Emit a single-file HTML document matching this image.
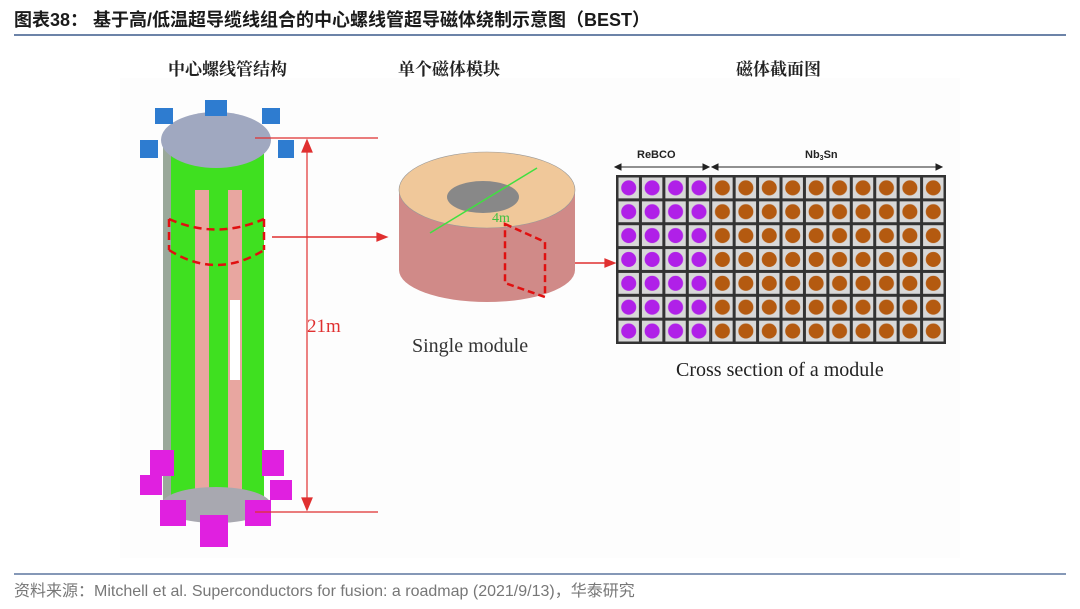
<!DOCTYPE html>
<html><head><meta charset="utf-8"><style>
body{margin:0;width:1080px;height:609px;background:#fff;overflow:hidden;font-family:"Liberation Sans","Noto Sans CJK SC",sans-serif}
</style></head><body>
<svg width="1080" height="609" xmlns="http://www.w3.org/2000/svg" style="position:absolute;left:0;top:0">
<defs>
<pattern id="pp" patternUnits="userSpaceOnUse" x="617" y="176" width="23.43" height="23.86">
<rect x="0" y="0" width="23.43" height="23.86" fill="#d8d8d8" stroke="#333" stroke-width="3"/>
<circle cx="11.7" cy="11.9" r="7.5" fill="#b020e8"/></pattern>
<pattern id="pb" patternUnits="userSpaceOnUse" x="617" y="176" width="23.43" height="23.86">
<rect x="0" y="0" width="23.43" height="23.86" fill="#d8d8d8" stroke="#333" stroke-width="3"/>
<circle cx="11.7" cy="11.9" r="7.5" fill="#b45a10"/></pattern>
</defs>
<text x="14" y="26" font-size="18" font-weight="bold" fill="#1a1a1a" font-family="Liberation Sans,Noto Sans CJK SC,sans-serif">图表38：  基于高/低温超导缆线组合的中心螺线管超导磁体绕制示意图（BEST）</text>
<line x1="14" y1="35" x2="1066" y2="35" stroke="#3c5a8c" stroke-width="1.5"/>
<rect x="120" y="78" width="840" height="480" fill="#fdfdfd"/>
<g font-family="Noto Serif CJK SC,serif" font-size="17" fill="#222" font-weight="bold">
<text x="168" y="75">中心螺线管结构</text>
<text x="398" y="75">单个磁体模块</text>
<text x="736" y="75">磁体截面图</text>
</g>
<!-- column -->
<rect x="168" y="145" width="96" height="355" fill="#3fe020"/>
<rect x="195" y="190" width="14" height="310" fill="#e8a6a0"/>
<rect x="228" y="190" width="14" height="310" fill="#e8a6a0"/>
<rect x="230" y="300" width="10" height="80" fill="#fff"/>
<rect x="163" y="145" width="8" height="355" fill="#9aa89a"/>
<ellipse cx="216" cy="140" rx="55" ry="28" fill="#a0a8c0"/>
<ellipse cx="216" cy="505" rx="55" ry="18" fill="#a8a8b0"/>
<g fill="#2e7cd0"><rect x="205" y="100" width="22" height="16"/><rect x="140" y="140" width="18" height="18"/><rect x="278" y="140" width="16" height="18"/><rect x="155" y="108" width="18" height="16"/><rect x="262" y="108" width="18" height="16"/></g>
<g fill="#e020e0"><rect x="150" y="450" width="24" height="26"/><rect x="262" y="450" width="22" height="26"/><rect x="160" y="500" width="26" height="26"/><rect x="200" y="515" width="28" height="32"/><rect x="245" y="500" width="26" height="26"/><rect x="140" y="475" width="22" height="20"/><rect x="270" y="480" width="22" height="20"/></g>
<g fill="none" stroke="#e01010" stroke-width="2.5" stroke-dasharray="8,5">
<path d="M169 219 Q216 240 264 219"/><path d="M169 250 Q216 280 264 250"/>
<line x1="169" y1="219" x2="169" y2="250"/><line x1="264" y1="219" x2="264" y2="250"/>
</g>
<g stroke="#e03030" stroke-width="1.2" fill="#e03030">
<line x1="255" y1="138" x2="378" y2="138"/><line x1="255" y1="512" x2="378" y2="512"/>
<line x1="307" y1="142" x2="307" y2="508"/>
<polygon points="307,140 302,152 312,152"/><polygon points="307,510 302,498 312,498"/>
<line x1="272" y1="237" x2="380" y2="237" stroke-width="1.5"/><polygon points="387,237 377,233 377,241"/>
<line x1="525" y1="263" x2="608" y2="263" stroke-width="1.5"/><polygon points="615,263 605,259 605,267"/>
</g>
<text x="307" y="332" font-family="Liberation Serif,serif" font-size="19" fill="#e03030">21m</text>
<!-- module -->
<path d="M399 190 L399 270 A88 32 0 0 0 575 270 L575 190 Z" fill="#d08a88"/>
<ellipse cx="487" cy="190" rx="88" ry="38" fill="#f0c89a" stroke="#999" stroke-width="0.6"/>
<ellipse cx="483" cy="197" rx="36" ry="16" fill="#888"/>
<line x1="430" y1="233" x2="537" y2="168" stroke="#40e040" stroke-width="1.5"/>
<text x="492" y="222" font-family="Liberation Serif,serif" font-size="14" fill="#40c040">4m</text>
<g fill="none" stroke="#e01010" stroke-width="2.5" stroke-dasharray="7,4"><path d="M505 224 L545 242 L545 297 L505 283 Z"/></g>
<text x="412" y="352" font-family="Liberation Serif,serif" font-size="20" fill="#333">Single module</text>
<!-- grid -->
<g font-family="Liberation Sans,sans-serif" font-size="11" font-weight="bold" fill="#222"><text x="637" y="158">ReBCO</text><text x="805" y="158">Nb<tspan font-size="7" dy="2">3</tspan><tspan dy="-2">Sn</tspan></text></g>
<g stroke="#222" stroke-width="1" fill="#222">
<line x1="617" y1="167" x2="707" y2="167"/><polygon points="615,167 621,164 621,170"/><polygon points="709,167 703,164 703,170"/>
<line x1="714" y1="167" x2="940" y2="167"/><polygon points="712,167 718,164 718,170"/><polygon points="942,167 936,164 936,170"/>
</g>
<rect x="617" y="176" width="93.72" height="167" fill="url(#pp)"/>
<rect x="710.72" y="176" width="234.3" height="167" fill="url(#pb)"/>
<rect x="617" y="176" width="328" height="167" fill="none" stroke="#333" stroke-width="2"/>
<text x="676" y="376" font-family="Liberation Serif,serif" font-size="20" fill="#222">Cross section of a module</text>
<line x1="14" y1="574" x2="1066" y2="574" stroke="#3c5a8c" stroke-width="1.2"/>
<text x="14" y="596" font-size="16" fill="#777">资料来源：Mitchell et al. Superconductors for fusion: a roadmap (2021/9/13)，华泰研究</text>
</svg>
</body></html>
